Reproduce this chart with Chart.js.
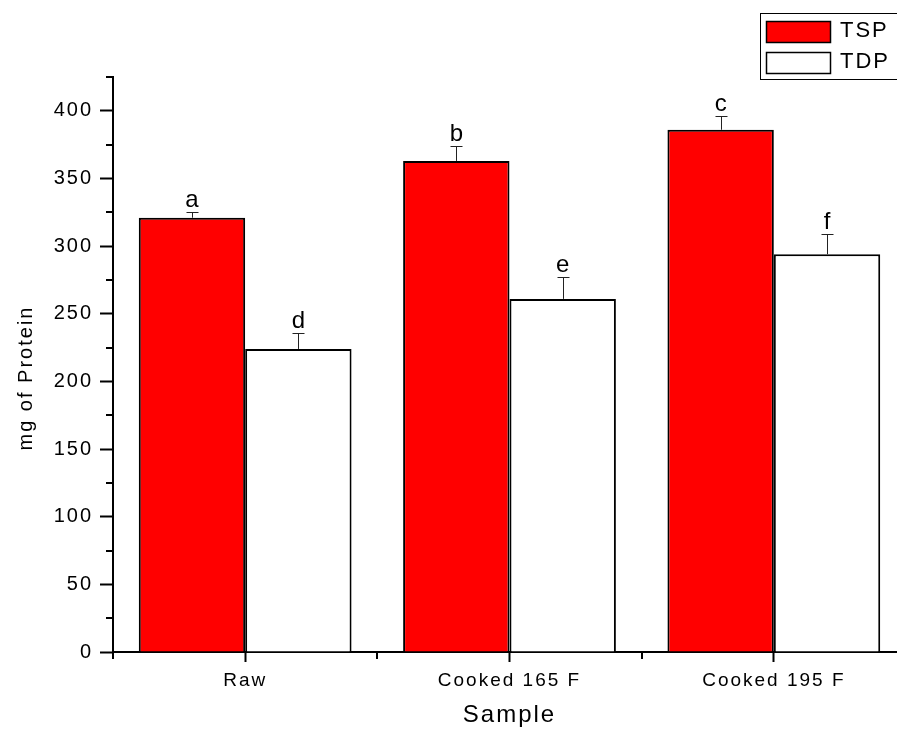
<!DOCTYPE html>
<html>
<head>
<meta charset="utf-8">
<title>Protein by sample</title>
<script src="https://cdn.jsdelivr.net/npm/chart.js@4.4.0/dist/chart.umd.min.js"></script>
<style>
  html, body { margin: 0; padding: 0; background: #fff; overflow: hidden; }
  #wrap { width: 897px; height: 734px; overflow: hidden; }
  canvas { display: block; }
</style>
</head>
<body>
<div id="wrap"><canvas id="proteinChart" width="930" height="734"></canvas></div>
<script>
// data
const samples = ['Raw', 'Cooked 165 F', 'Cooked 195 F'];
const tspValues = [321, 363, 386];
const tdpValues = [224, 261, 294];
const tspErrors = [4, 11, 10];
const tdpErrors = [12, 16, 15];
const tspLetters = ['a', 'b', 'c'];
const tdpLetters = ['d', 'e', 'f'];
const yMajorTicks = [0, 50, 100, 150, 200, 250, 300, 350, 400];
const yMinorTicks = [25, 75, 125, 175, 225, 275, 325, 375, 425];

const FONT = "'Liberation Sans', Arial, sans-serif";

// Origin style text is a bit spaced out
const spacingPlugin = {
    id: 'spacing',
    beforeUpdate(chart) { chart.ctx.letterSpacing = '2px'; },
    beforeDraw(chart) { chart.ctx.letterSpacing = '2px'; }
};

// error bars (upper only) + significance letters
const errorBarPlugin = {
    id: 'errorBars',
    afterDatasetsDraw(chart) {
        const ctx = chart.ctx;
        const yScale = chart.scales.y;
        ctx.save();
        ctx.strokeStyle = '#222';
        ctx.lineWidth = 1;
        ctx.fillStyle = '#000';
        ctx.font = '24px ' + FONT;
        ctx.textAlign = 'center';
        ctx.textBaseline = 'alphabetic';
        chart.data.datasets.forEach((ds, di) => {
            const meta = chart.getDatasetMeta(di);
            meta.data.forEach((bar, i) => {
                const x = Math.round(bar.x) + 0.5;
                const top = Math.round(yScale.getPixelForValue(ds.data[i] + ds.errors[i])) + 0.5;
                ctx.beginPath();
                ctx.moveTo(x, bar.y);
                ctx.lineTo(x, top);
                ctx.moveTo(x - 6, top);
                ctx.lineTo(x + 6, top);
                ctx.stroke();
                ctx.fillText(ds.letters[i], bar.x + 1, top - 6);
            });
        });
        ctx.restore();
    }
};

// minor ticks on both axes
const minorTickPlugin = {
    id: 'minorTicks',
    afterDraw(chart) {
        const ctx = chart.ctx;
        const x = chart.scales.x, y = chart.scales.y;
        ctx.save();
        ctx.strokeStyle = '#000';
        ctx.lineWidth = 2;
        ctx.beginPath();
        yMinorTicks.forEach(v => {
            const py = Math.round(y.getPixelForValue(v));
            ctx.moveTo(chart.chartArea.left - 7, py);
            ctx.lineTo(chart.chartArea.left, py);
        });
        for (let i = 0; i <= samples.length; i++) {
            const px = Math.round(x.getPixelForValue(i - 0.5));
            ctx.moveTo(px, chart.chartArea.bottom);
            ctx.lineTo(px, chart.chartArea.bottom + 7);
        }
        ctx.stroke();
        ctx.restore();
    }
};

// y title sits a little below the middle of the axis in the original
const yTitlePlugin = {
    id: 'yTitle',
    afterDraw(chart) {
        const ctx = chart.ctx;
        ctx.save();
        ctx.translate(26, 378);
        ctx.rotate(-Math.PI / 2);
        ctx.font = '20px ' + FONT;
        ctx.fillStyle = '#000';
        ctx.textAlign = 'center';
        ctx.textBaseline = 'middle';
        ctx.fillText('mg of Protein', 0, 0);
        ctx.restore();
    }
};

// boxed legend, stacked like the original
const boxLegendPlugin = {
    id: 'boxLegend',
    afterDraw(chart) {
        const ctx = chart.ctx;
        ctx.save();
        ctx.strokeStyle = '#000';
        ctx.lineWidth = 1;
        ctx.strokeRect(760.5, 13.5, 200, 66);
        ctx.font = '22px ' + FONT;
        ctx.textBaseline = 'middle';
        ctx.textAlign = 'left';
        chart.data.datasets.forEach((ds, i) => {
            const top = 21 + i * 31;
            ctx.fillStyle = ds.backgroundColor;
            ctx.fillRect(766, top, 65, 22);
            ctx.lineWidth = 1.5;
            ctx.strokeRect(766.5, top + 0.5, 64, 21);
            ctx.fillStyle = '#000';
            ctx.fillText(ds.label, 840, top + 10);
        });
        ctx.restore();
    }
};

new Chart(document.getElementById('proteinChart'), {
    type: 'bar',
    data: {
        labels: samples,
        datasets: [
            {
                label: 'TSP',
                data: tspValues,
                errors: tspErrors,
                letters: tspLetters,
                backgroundColor: '#ff0000',
                borderColor: '#000',
                borderWidth: 2,
                categoryPercentage: 0.805,
                barPercentage: 1.0
            },
            {
                label: 'TDP',
                data: tdpValues,
                errors: tdpErrors,
                letters: tdpLetters,
                backgroundColor: '#ffffff',
                borderColor: '#000',
                borderWidth: 2,
                categoryPercentage: 0.805,
                barPercentage: 1.0
            }
        ]
    },
    options: {
        responsive: false,
        animation: false,
        devicePixelRatio: 1,
        layout: { padding: { top: 77, right: 24, left: 0, bottom: 0 } },
        plugins: {
            legend: { display: false },
            tooltip: { enabled: false }
        },
        scales: {
            x: {
                grid: { drawOnChartArea: false, offset: false, tickLength: 10, tickWidth: 2, tickColor: '#000' },
                border: { color: '#000', width: 2 },
                ticks: { color: '#000', font: { family: FONT, size: 19 }, padding: 7, maxRotation: 0, autoSkip: false },
                title: { display: true, text: 'Sample', color: '#000', font: { family: FONT, size: 24 }, padding: { top: 0, bottom: 4 } },
                afterFit(scale) { scale.height = 82; }
            },
            y: {
                min: 0,
                max: 425,
                grid: { drawOnChartArea: false, tickLength: 13, tickWidth: 2, tickColor: '#000' },
                border: { color: '#000', width: 2 },
                ticks: { color: '#000', font: { family: FONT, size: 20 }, padding: 7, includeBounds: false },
                afterBuildTicks(scale) { scale.ticks = yMajorTicks.map(v => ({ value: v })); },
                afterFit(scale) { scale.width = 113; }
            }
        }
    },
    plugins: [spacingPlugin, errorBarPlugin, minorTickPlugin, yTitlePlugin, boxLegendPlugin]
});
</script>
</body>
</html>
